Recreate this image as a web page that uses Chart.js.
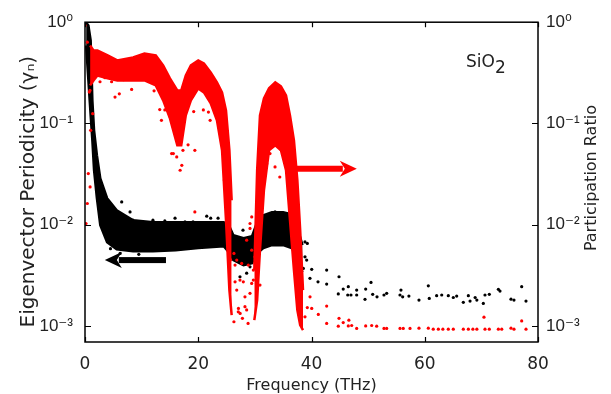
<!DOCTYPE html>
<html>
<head>
<meta charset="utf-8">
<script src="https://cdn.jsdelivr.net/npm/chart.js@4.4.1/dist/chart.umd.min.js"></script>
<style>
  html, body { margin: 0; padding: 0; background: #fff; }
</style>
</head>
<body>
<canvas id="chart" width="611" height="394"></canvas>
<script>
// axis ticks
const xTicks = [0, 20, 40, 60, 80];
const yTicks = [0.001, 0.01, 0.1, 1];

// black cloud (eigenvector periodicity), dense core as upper/lower envelope
const blackBandFreq = [0.2, 0.6, 1.0, 1.3, 1.6, 2.1, 2.7, 3.9, 5.6, 8.5, 12, 16, 20, 24.5, 25.4, 26.2, 28, 29.5, 30.4, 31.5, 33, 35, 36.5, 37.3, 37.9, 38.4];
const blackBandHigh = [0.993, 0.928, 0.66, 0.169, 0.0855, 0.0485, 0.0287, 0.01826, 0.0139, 0.01107, 0.01058, 0.01058, 0.01058, 0.01058, 0.00989, 0.00787, 0.00736, 0.0077, 0.01058, 0.01241, 0.01328, 0.01328, 0.01269, 0.01058, 0.00787, 0.00628];
const blackBandLow = [0.589, 0.266, 0.1202, 0.0681, 0.0345, 0.01826, 0.00989, 0.00672, 0.00573, 0.00548, 0.00548, 0.0056, 0.00587, 0.00614, 0.00535, 0.00447, 0.00399, 0.00417, 0.00523, 0.00587, 0.00628, 0.00628, 0.00587, 0.005, 0.00399, 0.0034];

// black scattered points
const blackDotFreq = [6.48, 7.95, 8.48, 10.24, 12.0, 14.1, 15.9, 17.66, 19.08, 21.5, 22.2, 23.5, 25.25, 27.9, 27.37, 28.55, 29.14, 33.56, 32.7, 4.5, 6.2, 9.5,
  38.85, 39.26, 38.85, 39.15, 38.55, 40.04, 39.73,
  41.15, 42.68, 42.68, 44.86, 44.73, 45.6, 46.5, 46.4, 46.97, 47.98, 47.98, 49.57, 49.45, 50.51, 50.81, 51.57, 52.8, 53.28, 55.8, 55.63, 56.1, 57.2, 58.98,
  60.63, 60.8, 62.1, 63.0, 64.16, 65.04, 65.64, 66.81, 67.7, 68.0, 68.9, 69.2, 70.34, 70.64, 71.4, 73.0, 73.29, 75.23, 75.76, 77.12, 77.88];
const blackDotVal = [0.0168, 0.01337, 0.01107, 0.01066, 0.01107, 0.0109, 0.01159, 0.01066, 0.01066, 0.01213, 0.01159, 0.01159, 0.01135, 0.00883, 0.00306, 0.00332, 0.00384, 0.01337, 0.01159, 0.0058, 0.0052, 0.0051,
  0.00676, 0.00653, 0.00481, 0.00447, 0.0037, 0.00362, 0.00295,
  0.00273, 0.00356, 0.00259, 0.00306, 0.00207, 0.00231, 0.00244, 0.00202, 0.00202, 0.00226, 0.00202, 0.00231, 0.00183, 0.00269, 0.00205, 0.00194, 0.00202, 0.0021, 0.00226, 0.00202, 0.00194, 0.00197, 0.0018,
  0.00249, 0.00187, 0.00199, 0.00202, 0.00199, 0.00191, 0.00197, 0.00171, 0.00199, 0.00176, 0.00191, 0.0018, 0.00167, 0.00202, 0.00205, 0.0023, 0.00221, 0.00184, 0.0018, 0.00244, 0.00176];

// red cloud (participation ratio), two dense lobes
const redBandAFreq = [0.9, 1.5, 2.2, 4, 5.7, 8.5, 10.5, 12.5, 13.8, 15, 16.3, 17, 17.8, 18.7, 20, 21, 22.2, 23.3, 24.2, 24.9, 25.5, 25.9];
const redBandAHigh = [0.589, 0.526, 0.526, 0.469, 0.419, 0.449, 0.491, 0.469, 0.374, 0.279, 0.212, 0.212, 0.298, 0.374, 0.419, 0.391, 0.319, 0.254, 0.2026, 0.1346, 0.0543, 0.01744];
const redBandALow = [0.2375, 0.266, 0.298, 0.279, 0.266, 0.266, 0.266, 0.2375, 0.169, 0.1123, 0.0608, 0.0608, 0.1202, 0.169, 0.222, 0.2026, 0.158, 0.1073, 0.0543, 0.01107, 0.00226, 0.00128];

const redBandBFreq = [29.9, 30.4, 30.9, 31.6, 32.5, 33.6, 34.6, 35.5, 36.2, 36.9, 37.5, 38.0, 38.5];
const redBandBHigh = [0.00356, 0.0345, 0.1202, 0.177, 0.222, 0.254, 0.232, 0.189, 0.1202, 0.0681, 0.0275, 0.00883, 0.00226];
const redBandBLow = [0.001143, 0.0018, 0.0056, 0.0219, 0.0543, 0.0608, 0.0543, 0.0345, 0.01107, 0.00356, 0.001435, 0.00102, 0.000911];

// red scattered points
const redDotFreq = [0.0, 0.41, 0.76, 0.88, 1.0, 1.36, 0.58, 0.41, 0.18, 0.9,
  5.3, 6.06, 8.24, 13.2, 13.5, 15.3, 15.6, 16.2, 17.1, 19.4, 21.8, 19.4, 24.6, 25.1, 25.7,
  2.65, 3.53, 4.7, 6.8, 12.2, 14.1, 15.0, 16.8, 17.3, 18.2, 19.2, 20.9, 22.1, 23.5, 25.0,
  26.3, 26.8, 26.5, 26.8, 26.3, 27.1, 27.4, 27.8, 28.8, 28.55, 28.25, 29.14, 29.44, 29.73, 30.02, 28.55, 29.14, 29.44, 27.96, 27.67, 28.84, 30.3, 30.9,
  26.5, 27.37, 27.07, 28.25, 29.73, 30.02, 29.44, 29.14, 30.9, 31.2,
  32.1, 32.67, 33.56, 34.4, 30.9, 34.7,
  39.74, 39.26, 38.85, 40.04,
  41.2, 42.68, 42.68, 44.86, 44.73, 45.6, 46.6, 46.5, 47.1, 47.98, 49.57, 50.63, 51.51, 52.8, 53.28, 55.63, 56.2, 57.4, 58.98, 60.63, 61.5, 62.4, 63.2,
  64.16, 65.04, 66.81, 67.7, 68.5, 69.2, 70.46, 70.64, 71.4, 73.0, 73.6, 75.23, 75.76, 77.12, 77.88];
const redDotVal = [0.93, 0.635, 0.204, 0.212, 0.0855, 0.125, 0.032, 0.0162, 0.01028, 0.0236,
  0.182, 0.196, 0.217, 0.137, 0.1073, 0.0504, 0.0504, 0.0467, 0.0386, 0.0543, 0.1296, 0.01337, 0.0276, 0.0135, 0.0045,
  0.258, 0.283, 0.258, 0.27, 0.21, 0.136, 0.118, 0.0345, 0.0543, 0.0615, 0.131, 0.136, 0.1073, 0.104, 0.0855,
  0.0052, 0.00447, 0.00273, 0.00226, 0.0011, 0.00149, 0.00133, 0.00119, 0.00106, 0.00144, 0.00194, 0.0021, 0.00263, 0.00356, 0.00481, 0.00703, 0.01028, 0.01194, 0.00273, 0.00414, 0.00399, 0.00263, 0.00253,
  0.00399, 0.00284, 0.00138, 0.00155, 0.00284, 0.00414, 0.0056, 0.00918, 0.01194, 0.0162,
  0.0401, 0.0504, 0.0372, 0.0296, 0.0255, 0.0543,
  0.00194, 0.00152, 0.00123, 0.00149,
  0.0013, 0.00157, 0.00106, 0.00119, 0.000995, 0.00108, 0.00114, 0.001, 0.00101, 0.000946, 0.001, 0.00101, 0.000995, 0.000946, 0.000946, 0.000946, 0.000946, 0.000946, 0.00095, 0.00095, 0.00093, 0.00093, 0.00093,
  0.00093, 0.00093, 0.00093, 0.00093, 0.00093, 0.00093, 0.00122, 0.00093, 0.00093, 0.00093, 0.00093, 0.00095, 0.00093, 0.00112, 0.00093];

const fontFamily = "'DejaVu Sans', sans-serif";
const tickFamily = "'Liberation Sans', 'DejaVu Sans', sans-serif";
const textColor = "#222";
const red = "#ff0000";
const black = "#000000";

function pts(xs, ys) {
  return xs.map((x, i) => ({ x: x, y: ys[i] }));
}

function supLabel(v) {
  const sup = { "0": "⁰", "1": "¹", "2": "²", "3": "³", "-": "⁻" };
  const p = Math.round(Math.log10(v));
  return "10" + String(p).split("").map((c) => sup[c]).join("");
}

function dots(data, color, axis) {
  return {
    type: "scatter",
    data: data,
    yAxisID: axis,
    showLine: false,
    pointRadius: 1.6,
    pointHoverRadius: 1.6,
    pointBorderWidth: 0,
    pointBackgroundColor: color,
    pointBorderColor: color,
  };
}

function band(data, color, axis, fill) {
  return {
    type: "line",
    data: data,
    yAxisID: axis,
    borderColor: color,
    backgroundColor: color,
    borderWidth: 2.5,
    pointRadius: 0,
    tension: 0,
    fill: fill,
  };
}

// arrows (annotations, in data units)
const notes = {
  arrows: [
    { from: 14.3, to: 3.5, at: 0.00447, color: black },
    { from: 37.4, to: 48.0, at: 0.0357, color: red },
  ],
};

const framePlugin = {
  id: "frame",
  afterDatasetsDraw(chart) {
    const { ctx, chartArea: a, scales } = chart;
    const x = scales.x, y = scales.y;
    ctx.save();
    // arrows
    notes.arrows.forEach((ar) => {
      const x0 = x.getPixelForValue(ar.from);
      const x1 = x.getPixelForValue(ar.to);
      const yy = y.getPixelForValue(ar.at);
      const dir = x1 > x0 ? 1 : -1;
      const head = 14;
      ctx.fillStyle = ar.color;
      ctx.fillRect(Math.min(x0, x1 - dir * head), yy - 3, Math.abs(x1 - dir * head - x0), 6);
      ctx.beginPath();
      ctx.moveTo(x1, yy);
      ctx.lineTo(x1 - dir * (head + 3), yy - 8);
      ctx.lineTo(x1 - dir * (head - 2), yy);
      ctx.lineTo(x1 - dir * (head + 3), yy + 8);
      ctx.closePath();
      ctx.fill();
    });
    // frame
    ctx.strokeStyle = "#000";
    ctx.lineWidth = 1.5;
    ctx.strokeRect(a.left, a.top, a.right - a.left, a.bottom - a.top);
    ctx.lineWidth = 1.2;
    ctx.beginPath();
    xTicks.forEach((v) => {
      const px = Math.round(x.getPixelForValue(v)) + 0.5;
      ctx.moveTo(px, a.bottom); ctx.lineTo(px, a.bottom - 5);
      ctx.moveTo(px, a.top); ctx.lineTo(px, a.top + 5);
    });
    yTicks.forEach((v) => {
      const py = Math.round(y.getPixelForValue(v)) + 0.5;
      ctx.moveTo(a.left, py); ctx.lineTo(a.left + 6, py);
      ctx.moveTo(a.right, py); ctx.lineTo(a.right - 6, py);
    });
    ctx.stroke();
    // sample label
    ctx.fillStyle = textColor;
    ctx.font = "17px " + fontFamily;
    ctx.textBaseline = "alphabetic";
    ctx.textAlign = "left";
    const lx = a.right - 72, ly = a.top + 45;
    ctx.fillText("SiO", lx, ly);
    const w = ctx.measureText("SiO").width;
    ctx.fillText("2", lx + w, ly + 6);
    // right axis title, reading bottom to top
    ctx.font = "16px " + fontFamily;
    ctx.textAlign = "center";
    ctx.textBaseline = "middle";
    ctx.translate(592, (a.top + a.bottom) / 2 - 4);
    ctx.rotate(-Math.PI / 2);
    ctx.fillText("Participation Ratio", 0, 0);
    ctx.restore();
  },
};

const tickFont = { family: fontFamily, size: 17 };
const yTickFont = { family: tickFamily, size: 17 };
const yMin = 0.000694;

function logAxis(position, width, padding) {
  return {
    type: "logarithmic",
    position: position,
    min: yMin,
    max: 1,
    afterBuildTicks: (s) => { s.ticks = yTicks.map((v) => ({ value: v })); },
    afterFit: (s) => { s.width = width; },
    ticks: { callback: (v) => supLabel(v), font: yTickFont, color: textColor, padding: padding },
    grid: { display: false, drawTicks: false },
    border: { display: false },
  };
}

const leftAxis = logAxis("left", 85, 12);
leftAxis.title = {
  display: true,
  text: "Eigenvector Periodicity (γₙ)\u00a0\u00a0\u00a0",
  font: { family: fontFamily, size: 20, lineHeight: 1 },
  color: textColor,
  padding: { top: 19, bottom: 0 },
};
const rightAxis = logAxis("right", 73, 8);

new Chart(document.getElementById("chart"), {
  type: "scatter",
  data: {
    datasets: [
      dots(pts(redDotFreq, redDotVal), red, "y2"),
      band(pts(redBandAFreq, redBandALow), red, "y2", false),
      band(pts(redBandAFreq, redBandAHigh), red, "y2", "-1"),
      band(pts(redBandBFreq, redBandBLow), red, "y2", false),
      band(pts(redBandBFreq, redBandBHigh), red, "y2", "-1"),
      dots(pts(blackDotFreq, blackDotVal), black, "y"),
      band(pts(blackBandFreq, blackBandLow), black, "y", false),
      band(pts(blackBandFreq, blackBandHigh), black, "y", "-1"),
    ],
  },
  options: {
    responsive: false,
    animation: false,
    layout: { padding: { top: 22, right: 0, bottom: 0, left: 0 } },
    plugins: { legend: { display: false }, tooltip: { enabled: false } },
    scales: {
      x: {
        type: "linear",
        min: 0,
        max: 80,
        afterBuildTicks: (s) => { s.ticks = xTicks.map((v) => ({ value: v })); },
        afterFit: (s) => { s.height = 52; },
        ticks: { font: tickFont, color: textColor, padding: 12, maxRotation: 0 },
        grid: { display: false, drawTicks: false },
        border: { display: false },
        title: {
          display: true,
          text: "Frequency (THz)",
          font: { family: fontFamily, size: 16, lineHeight: 1 },
          color: textColor,
          padding: { top: 0, bottom: 0 },
        },
      },
      y: leftAxis,
      y2: rightAxis,
    },
  },
  plugins: [framePlugin],
});
</script>
</body>
</html>
